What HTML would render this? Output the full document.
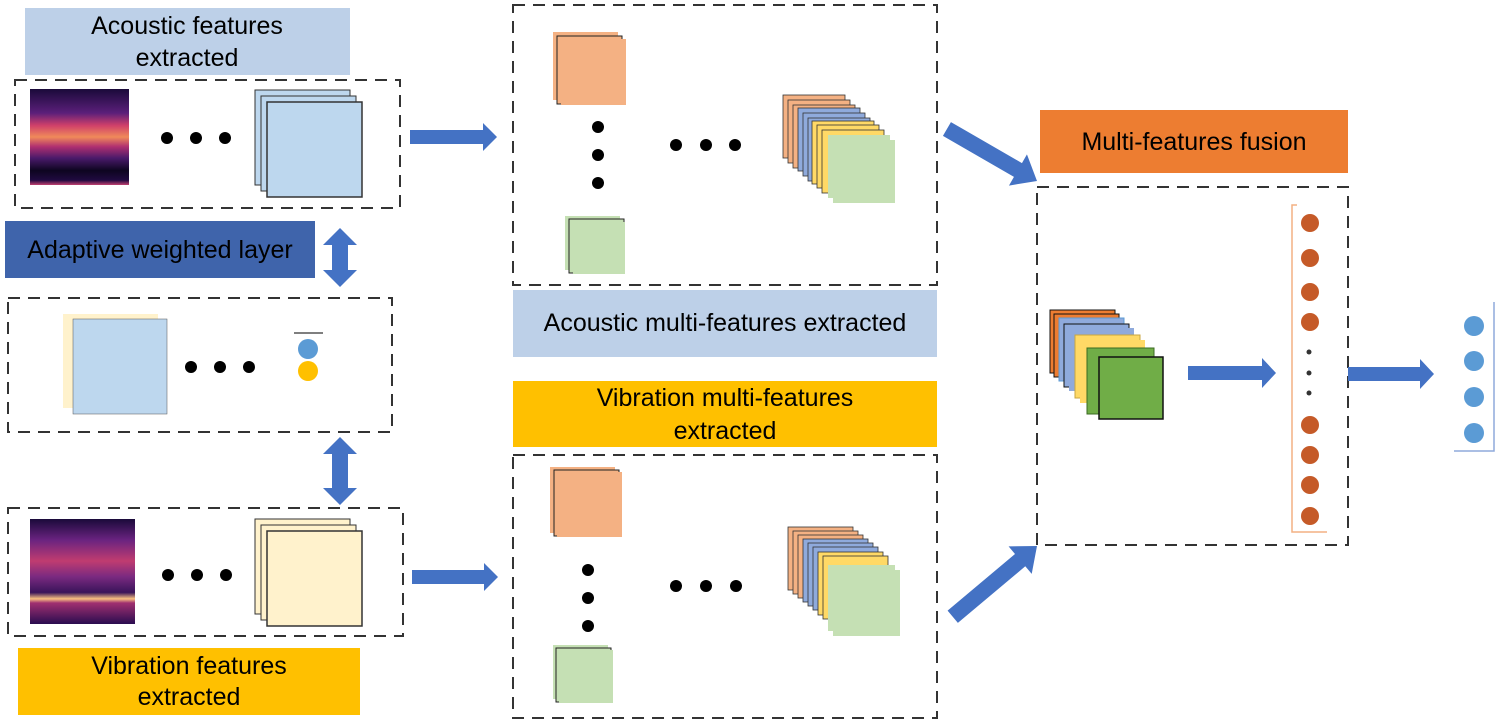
<!DOCTYPE html>
<html><head><meta charset="utf-8"><style>
html,body{margin:0;padding:0;background:#fff;}
svg{display:block;}
text{font-family:"Liberation Sans",sans-serif;fill:#000;}
</style></head><body>
<svg width="1500" height="725" viewBox="0 0 1500 725" xmlns="http://www.w3.org/2000/svg">
<defs>
<linearGradient id="spec1" x1="0" y1="0" x2="0" y2="1">
<stop offset="0" stop-color="#1a0a3a"/><stop offset="0.25" stop-color="#5b1f7a"/>
<stop offset="0.38" stop-color="#d0406a"/><stop offset="0.5" stop-color="#f08a5a"/>
<stop offset="0.6" stop-color="#b03070"/><stop offset="0.72" stop-color="#4a1a6a"/>
<stop offset="0.85" stop-color="#0d0520"/><stop offset="0.95" stop-color="#200a40"/><stop offset="1" stop-color="#c04070"/>
</linearGradient>
<linearGradient id="spec2" x1="0" y1="0" x2="0" y2="1">
<stop offset="0" stop-color="#1a0a3a"/><stop offset="0.2" stop-color="#6a2380"/>
<stop offset="0.4" stop-color="#c03c70"/><stop offset="0.55" stop-color="#7a2a80"/>
<stop offset="0.7" stop-color="#3a145a"/><stop offset="0.76" stop-color="#f8c080"/>
<stop offset="0.8" stop-color="#a03070"/><stop offset="1" stop-color="#2a0c50"/>
</linearGradient>
</defs>
<g fill="none" stroke="#333" stroke-width="2" stroke-dasharray="12,8">
<rect x="15" y="80" width="385" height="128"/>
<rect x="8" y="298" width="384" height="134"/>
<rect x="8" y="508" width="395" height="128"/>
<rect x="513" y="5" width="424" height="280"/>
<rect x="513" y="455" width="424" height="263"/>
<rect x="1037" y="187" width="311" height="358"/>
</g>

<!-- Left top -->
<rect x="25" y="8" width="325" height="67" fill="#BDD0E8"/>
<text x="187" y="34" font-size="25" text-anchor="middle">Acoustic features</text>
<text x="187" y="66" font-size="25" text-anchor="middle">extracted</text>
<rect x="30" y="89" width="99" height="96" fill="url(#spec1)"/>
<circle cx="167" cy="138" r="6"/><circle cx="196" cy="138" r="6"/><circle cx="225" cy="138" r="6"/>
<rect x="255" y="90" width="95" height="95" fill="#BDD7EE" stroke="#333" stroke-width="1"/>
<rect x="261" y="96" width="95" height="95" fill="#BDD7EE" stroke="#333" stroke-width="1"/>
<rect x="267" y="102" width="95" height="95" fill="#BDD7EE" stroke="#333" stroke-width="1.5"/>

<!-- Adaptive -->
<rect x="5" y="221" width="310" height="57" fill="#3F64AB"/>
<text x="160" y="258" font-size="25" text-anchor="middle">Adaptive weighted layer</text>
<polygon points="340,228 357,245 348,245 348,270 357,270 340,287 323,270 332,270 332,245 323,245" fill="#4472C4"/>

<!-- middle left box -->
<rect x="63" y="314" width="95" height="94" fill="#FFF2CC"/>
<rect x="73" y="319" width="94" height="95" fill="#BDD7EE" stroke="#555" stroke-width="0.5"/>
<circle cx="191" cy="367" r="6"/><circle cx="220" cy="367" r="6"/><circle cx="249" cy="367" r="6"/>
<line x1="294" y1="333" x2="323" y2="333" stroke="#333" stroke-width="1.2"/>
<circle cx="308" cy="349" r="10" fill="#5B9BD5"/><circle cx="308" cy="371" r="10" fill="#FFC000"/>
<polygon points="340,437 357,454 348,454 348,488 357,488 340,505 323,488 332,488 332,454 323,454" fill="#4472C4"/>

<!-- Left bottom -->
<rect x="30" y="519" width="105" height="105" fill="url(#spec2)"/>
<circle cx="168" cy="575" r="6"/><circle cx="197" cy="575" r="6"/><circle cx="226" cy="575" r="6"/>
<rect x="255" y="519" width="95" height="95" fill="#FFF2CC" stroke="#333" stroke-width="1"/>
<rect x="261" y="525" width="95" height="95" fill="#FFF2CC" stroke="#333" stroke-width="1"/>
<rect x="267" y="531" width="95" height="95" fill="#FFF2CC" stroke="#333" stroke-width="1.5"/>
<rect x="18" y="648" width="342" height="67" fill="#FFC000"/>
<text x="189" y="674" font-size="25" text-anchor="middle">Vibration features</text>
<text x="189" y="705" font-size="25" text-anchor="middle">extracted</text>

<!-- arrows left to middle -->
<polygon points="410,130 483,130 483,123 497,137 483,151 483,144 410,144" fill="#4472C4"/>
<polygon points="412,570 484,570 484,563 498,577 484,591 484,584 412,584" fill="#4472C4"/>

<!-- Middle top -->
<rect x="553" y="32" width="65" height="68" fill="#F4B183"/>
<rect x="557" y="36" width="65" height="68" fill="#F4B183" stroke="#222" stroke-width="1"/>
<rect x="561" y="39" width="65" height="66" fill="#F4B183"/>
<circle cx="598" cy="127" r="6"/><circle cx="598" cy="155" r="6"/><circle cx="598" cy="183" r="6"/>
<rect x="565" y="216" width="55" height="54" fill="#C5E0B4"/>
<rect x="569" y="219" width="55" height="54" fill="#C5E0B4" stroke="#222" stroke-width="1"/>
<rect x="573" y="222" width="52" height="52" fill="#C5E0B4"/>
<circle cx="676" cy="145" r="6"/><circle cx="706" cy="145" r="6"/><circle cx="735" cy="145" r="6"/>
<g stroke="#333" stroke-width="0.8">
<rect x="783" y="95" width="62" height="63" fill="#F4B183"/>
<rect x="788" y="100" width="62" height="63" fill="#F4B183"/>
<rect x="793" y="105" width="62" height="63" fill="#F4B183"/>
<rect x="798" y="108" width="62" height="63" fill="#8FAADC"/>
<rect x="803" y="113" width="62" height="63" fill="#8FAADC"/>
<rect x="808" y="118" width="62" height="63" fill="#8FAADC"/>
<rect x="812" y="121" width="62" height="63" fill="#FFD966"/>
<rect x="817" y="125" width="62" height="63" fill="#FFD966"/>
<rect x="822" y="130" width="62" height="63" fill="#FFD966"/>
<rect x="828" y="135" width="62" height="63" fill="#C5E0B4" stroke="none"/>
<rect x="833" y="140" width="62" height="63" fill="#C5E0B4" stroke="none"/>
</g>

<rect x="513" y="290" width="424" height="67" fill="#BDD0E8"/>
<text x="725" y="331" font-size="25" text-anchor="middle">Acoustic multi-features extracted</text>
<rect x="513" y="381" width="424" height="66" fill="#FFC000"/>
<text x="725" y="406" font-size="25" text-anchor="middle">Vibration multi-features</text>
<text x="725" y="439" font-size="25" text-anchor="middle">extracted</text>

<!-- Middle bottom -->
<rect x="550" y="467" width="65" height="66" fill="#F4B183"/>
<rect x="554" y="470" width="65" height="66" fill="#F4B183" stroke="#222" stroke-width="1"/>
<rect x="557" y="472" width="65" height="65" fill="#F4B183"/>
<circle cx="588" cy="570" r="6"/><circle cx="588" cy="598" r="6"/><circle cx="588" cy="626" r="6"/>
<rect x="553" y="645" width="55" height="54" fill="#C5E0B4"/>
<rect x="556" y="648" width="55" height="54" fill="#C5E0B4" stroke="#222" stroke-width="1"/>
<rect x="559" y="650" width="54" height="53" fill="#C5E0B4"/>
<circle cx="676" cy="586" r="6"/><circle cx="706" cy="586" r="6"/><circle cx="736" cy="586" r="6"/>
<g stroke="#333" stroke-width="0.8">
<rect x="788" y="527" width="65" height="63" fill="#F4B183"/>
<rect x="793" y="531" width="65" height="63" fill="#F4B183"/>
<rect x="798" y="535" width="65" height="63" fill="#F4B183"/>
<rect x="803" y="539" width="65" height="63" fill="#8FAADC"/>
<rect x="808" y="543" width="65" height="63" fill="#8FAADC"/>
<rect x="813" y="547" width="65" height="63" fill="#8FAADC"/>
<rect x="818" y="552" width="65" height="63" fill="#FFD966"/>
<rect x="823" y="556" width="65" height="63" fill="#FFD966"/>
<rect x="828" y="565" width="67" height="66" fill="#C5E0B4" stroke="none"/>
<rect x="833" y="570" width="67" height="66" fill="#C5E0B4" stroke="none"/>
</g>

<!-- diagonal arrows -->
<g transform="translate(1037,181) rotate(30)"><polygon points="-104,-8 -22,-8 -22,-18 0,0 -22,18 -22,8 -104,8" fill="#4472C4"/></g>
<g transform="translate(1037,546) rotate(-40)"><polygon points="-110,-8 -22,-8 -22,-18 0,0 -22,18 -22,8 -110,8" fill="#4472C4"/></g>

<!-- Right -->
<rect x="1040" y="110" width="308" height="63" fill="#ED7D31"/>
<text x="1194" y="150" font-size="25" text-anchor="middle">Multi-features fusion</text>
<g stroke="#111" stroke-width="1">
<rect x="1050" y="310" width="65" height="63" fill="#ED7D31"/>
<rect x="1054" y="314" width="65" height="63" fill="#ED7D31"/>
<rect x="1059" y="318" width="65" height="63" fill="#8FAADC" stroke="#5B9BD5"/>
<rect x="1064" y="324" width="65" height="63" fill="#8FAADC"/>
<rect x="1069" y="328" width="65" height="63" fill="#8FAADC" stroke="none"/>
<rect x="1075" y="335" width="65" height="63" fill="#FFD966" stroke="#c9a640"/>
<rect x="1080" y="340" width="65" height="63" fill="#FFD966" stroke="none"/>
<rect x="1087" y="348" width="67" height="66" fill="#70AD47" stroke="#3a6a20"/>
<rect x="1099" y="357" width="64" height="62" fill="#70AD47" stroke-width="1.5"/>
</g>
<polygon points="1188,366 1262,366 1262,358 1276,373 1262,388 1262,380 1188,380" fill="#4472C4"/>
<path d="M1297,205 L1292,205 L1292,532 L1327,532" fill="none" stroke="#F4B183" stroke-width="1.5"/>
<g fill="#C55A28">
<circle cx="1310" cy="223" r="9"/><circle cx="1310" cy="258" r="9"/><circle cx="1310" cy="292" r="9"/><circle cx="1310" cy="322" r="9"/>
<circle cx="1310" cy="425" r="9"/><circle cx="1310" cy="455" r="9"/><circle cx="1310" cy="485" r="9"/><circle cx="1310" cy="516" r="9"/>
</g>
<circle cx="1309" cy="352" r="2.5" fill="#333"/><circle cx="1309" cy="373" r="2.5" fill="#333"/><circle cx="1309" cy="393" r="2.5" fill="#333"/>
<polygon points="1348,367 1420,367 1420,359 1434,374 1420,389 1420,381 1348,381" fill="#4472C4"/>
<g fill="#5B9BD5">
<circle cx="1474" cy="326" r="10"/><circle cx="1474" cy="361" r="10"/><circle cx="1474" cy="397" r="10"/><circle cx="1474" cy="433" r="10"/>
</g>
<path d="M1494,302 L1494,451 L1454,451" fill="none" stroke="#8FAADC" stroke-width="1.5"/>
</svg>
</body></html>
